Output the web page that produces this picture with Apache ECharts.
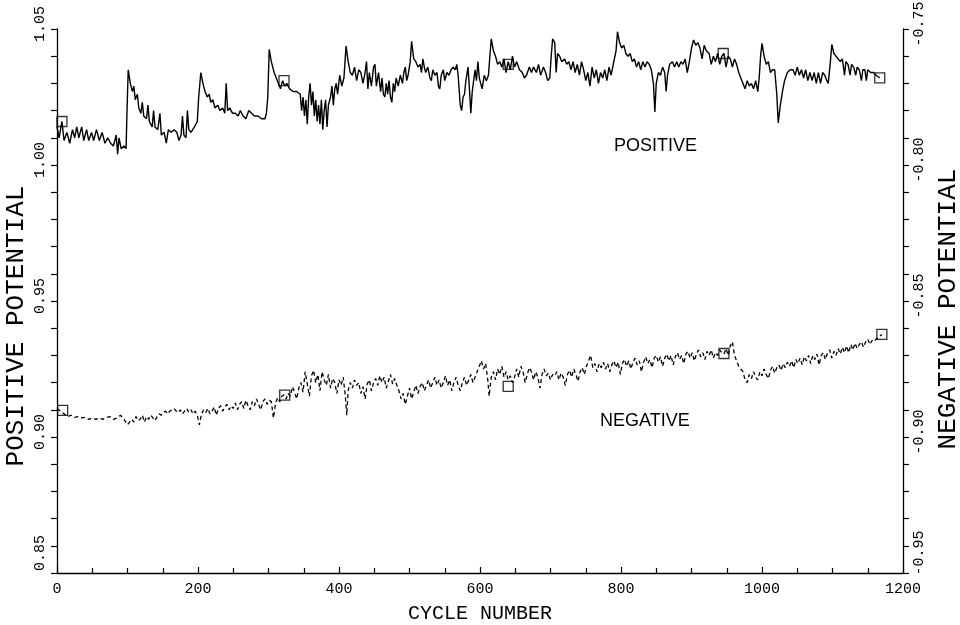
<!DOCTYPE html>
<html><head><meta charset="utf-8">
<script src="https://cdn.jsdelivr.net/npm/echarts@6/dist/echarts.min.js"></script>
<style>html,body{margin:0;padding:0;background:#fff}#c{width:960px;height:625px}</style>
</head><body><div id="c"></div>
<script>
const posCycles=[0,3,7,10,14,18,22,25,28,31,35,38,42,45,49,52,56,60,64,68,72,76,80,84,86,88,91,95,98,99,101,104,107,109,111,114,116,119,121,123,127,129,131,135,137,139,143,146,148,152,155,158,162,166,170,173,176,178,180,183,185,187,190,195,199,201,204,207,210,213,216,218,221,224,228,231,235,238,240,242,245,249,253,257,260,264,268,272,276,280,285,290,295,297,299,301,304,308,311,314,317,320,323,326,330,335,340,345,347,349,351,353,355,357,359,361,363,365,367,369,371,373,375,377,379,381,383,385,388,390,392,394,396,398,401,404,407,410,413,416,419,422,425,428,431,434,437,439,441,443,446,449,451,453,456,459,461,463,465,467,469,471,473,475,477,479,481,484,487,490,492,494,496,498,501,503,506,509,512,515,517,519,521,523,526,529,531,533,536,539,541,543,545,548,550,553,556,559,562,565,567,569,572,574,576,578,580,583,585,587,589,591,593,595,597,599,601,603,606,609,612,614,616,619,622,625,628,631,634,637,640,643,646,649,652,656,660,663,666,670,673,676,680,683,686,690,693,696,699,701,703,706,708,710,713,716,720,723,726,729,732,735,738,741,744,747,750,753,756,759,762,765,768,771,774,777,780,783,786,789,793,795,798,801,804,807,810,813,816,819,822,825,828,831,834,837,840,843,846,848,850,853,856,859,862,864,866,869,873,876,879,882,885,888,891,894,897,900,903,906,909,912,915,918,921,925,928,931,934,937,940,943,946,949,952,955,958,961,964,967,970,973,976,979,982,985,988,991,994,996,998,1000,1003,1006,1009,1012,1015,1018,1021,1023,1026,1029,1032,1036,1040,1044,1047,1050,1053,1056,1059,1062,1065,1068,1071,1074,1077,1080,1083,1086,1089,1092,1094,1097,1099,1102,1105,1108,1111,1114,1117,1119,1122,1125,1127,1130,1133,1135,1138,1141,1143,1146,1148,1150,1154,1158,1162,1167];
const posValues=[1.014,1.010,1.016,1.009,1.012,1.008,1.013,1.010,1.014,1.010,1.014,1.009,1.013,1.009,1.012,1.009,1.013,1.009,1.012,1.008,1.010,1.008,1.007,1.011,1.004,1.010,1.006,1.007,1.006,1.017,1.035,1.030,1.027,1.029,1.024,1.026,1.021,1.019,1.023,1.018,1.017,1.022,1.016,1.014,1.020,1.014,1.013,1.019,1.011,1.012,1.008,1.013,1.012,1.013,1.012,1.009,1.011,1.018,1.011,1.010,1.020,1.013,1.012,1.014,1.016,1.025,1.034,1.030,1.027,1.025,1.026,1.023,1.024,1.021,1.022,1.020,1.021,1.019,1.030,1.020,1.021,1.019,1.019,1.018,1.020,1.018,1.017,1.020,1.019,1.018,1.018,1.017,1.017,1.019,1.025,1.0425,1.038,1.034,1.032,1.030,1.028,1.031,1.029,1.030,1.028,1.027,1.027,1.026,1.020,1.025,1.018,1.024,1.015,1.025,1.030,1.022,1.027,1.018,1.024,1.016,1.022,1.015,1.024,1.013,1.020,1.024,1.014,1.022,1.025,1.029,1.022,1.028,1.030,1.026,1.033,1.029,1.032,1.0437,1.038,1.034,1.033,1.036,1.031,1.035,1.034,1.030,1.034,1.038,1.028,1.034,1.029,1.036,1.037,1.029,1.034,1.027,1.032,1.026,1.025,1.030,1.026,1.031,1.025,1.023,1.030,1.027,1.032,1.029,1.033,1.030,1.034,1.036,1.031,1.033,1.038,1.0455,1.039,1.038,1.036,1.037,1.034,1.039,1.036,1.034,1.036,1.032,1.031,1.035,1.033,1.034,1.029,1.028,1.033,1.035,1.031,1.034,1.033,1.035,1.036,1.035,1.037,1.033,1.022,1.020,1.025,1.026,1.031,1.036,1.028,1.019,1.027,1.031,1.035,1.031,1.038,1.032,1.030,1.028,1.033,1.031,1.033,1.040,1.0464,1.042,1.040,1.037,1.038,1.036,1.039,1.034,1.038,1.035,1.040,1.036,1.038,1.035,1.034,1.032,1.033,1.036,1.034,1.036,1.034,1.037,1.033,1.036,1.034,1.031,1.032,1.040,1.0464,1.045,1.034,1.041,1.040,1.038,1.039,1.037,1.038,1.035,1.038,1.034,1.037,1.033,1.038,1.035,1.031,1.034,1.029,1.036,1.032,1.035,1.030,1.034,1.032,1.035,1.031,1.036,1.033,1.037,1.042,1.049,1.045,1.043,1.044,1.041,1.040,1.041,1.038,1.039,1.036,1.038,1.035,1.038,1.036,1.038,1.037,1.035,1.030,1.0195,1.030,1.034,1.033,1.036,1.034,1.027,1.033,1.037,1.038,1.036,1.038,1.036,1.038,1.037,1.039,1.034,1.038,1.043,1.046,1.044,1.045,1.043,1.039,1.044,1.042,1.041,1.037,1.040,1.038,1.041,1.037,1.040,1.041,1.036,1.040,1.039,1.036,1.039,1.037,1.034,1.032,1.030,1.028,1.031,1.029,1.030,1.028,1.031,1.027,1.032,1.040,1.0447,1.040,1.037,1.038,1.034,1.035,1.035,1.026,1.0155,1.022,1.027,1.031,1.034,1.035,1.035,1.033,1.036,1.033,1.035,1.032,1.035,1.031,1.034,1.031,1.034,1.030,1.034,1.030,1.034,1.033,1.031,1.030,1.038,1.0443,1.041,1.040,1.039,1.038,1.039,1.033,1.038,1.037,1.033,1.037,1.036,1.033,1.036,1.035,1.031,1.035,1.035,1.031,1.035,1.034,1.034,1.033,1.032];
const negCycles=[0,5,10,15,20,25,30,35,40,45,50,55,60,65,70,75,80,85,90,95,100,103,106,109,112,115,118,121,124,127,130,133,136,139,142,145,148,151,154,157,160,163,166,169,172,175,178,181,184,187,190,193,196,199,202,205,208,211,214,217,220,223,226,229,232,235,238,241,244,247,250,253,256,259,262,265,268,271,274,277,280,283,286,289,292,295,298,301,304,307,310,313,316,319,322,325,328,331,334,337,340,343,346,349,352,355,358,361,364,367,370,373,376,379,382,385,388,391,394,397,400,403,406,409,411,413,416,419,422,425,428,431,434,437,440,443,446,449,452,455,458,461,464,467,470,473,476,479,482,485,488,491,494,497,500,503,506,509,512,515,518,521,524,527,530,533,536,539,542,545,548,551,554,557,560,563,566,569,572,575,578,581,584,587,590,593,596,599,602,605,608,611,613,616,619,622,625,628,631,634,637,640,643,646,649,652,655,658,661,664,667,670,673,676,679,682,685,688,691,694,697,700,703,706,709,712,715,718,721,724,727,730,733,736,739,742,745,748,751,754,757,760,763,766,769,772,775,778,781,784,787,790,793,796,799,802,805,808,811,814,817,820,823,826,829,832,835,838,841,844,847,850,853,856,859,862,865,868,871,874,877,880,883,886,889,892,895,898,901,904,907,910,913,916,919,922,925,928,931,934,937,940,943,946,949,952,955,958,961,964,967,970,973,976,979,982,985,988,991,994,997,1000,1003,1006,1009,1012,1015,1018,1021,1024,1027,1030,1033,1036,1039,1042,1045,1048,1051,1054,1057,1060,1063,1066,1069,1072,1075,1078,1081,1084,1087,1090,1093,1096,1099,1102,1105,1108,1111,1114,1117,1120,1123,1126,1129,1132,1135,1138,1141,1144,1147,1150,1153,1156,1159,1162,1165,1170];
const negValues=[-0.8895,-0.8905,-0.8915,-0.8925,-0.8920,-0.8928,-0.8925,-0.8930,-0.8928,-0.8935,-0.8930,-0.8935,-0.8930,-0.8935,-0.8928,-0.8925,-0.8935,-0.8930,-0.8920,-0.8935,-0.8955,-0.8945,-0.8935,-0.8945,-0.8925,-0.8940,-0.8935,-0.8920,-0.8945,-0.8925,-0.8935,-0.8920,-0.8930,-0.8940,-0.8925,-0.8915,-0.8920,-0.8910,-0.8905,-0.8915,-0.8905,-0.8900,-0.8895,-0.8905,-0.8910,-0.8900,-0.8915,-0.8905,-0.8895,-0.8910,-0.8900,-0.8915,-0.8905,-0.8920,-0.8955,-0.8915,-0.8900,-0.8910,-0.8895,-0.8915,-0.8905,-0.8890,-0.8920,-0.8895,-0.8885,-0.8905,-0.8890,-0.8880,-0.8900,-0.8885,-0.8895,-0.8875,-0.8900,-0.8880,-0.8870,-0.8895,-0.8865,-0.8885,-0.8900,-0.8870,-0.8885,-0.8860,-0.8880,-0.8900,-0.8870,-0.8860,-0.8880,-0.8865,-0.8870,-0.8930,-0.8875,-0.8855,-0.8870,-0.8850,-0.8845,-0.8860,-0.8840,-0.8850,-0.8815,-0.8835,-0.8860,-0.8820,-0.8800,-0.8835,-0.8760,-0.8805,-0.8850,-0.8775,-0.8755,-0.8800,-0.8770,-0.8830,-0.8760,-0.8790,-0.8810,-0.8770,-0.8820,-0.8785,-0.8800,-0.8840,-0.8790,-0.8810,-0.8780,-0.8850,-0.8920,-0.8830,-0.8800,-0.8820,-0.8790,-0.8810,-0.8800,-0.8840,-0.8815,-0.8860,-0.8805,-0.8790,-0.8830,-0.8800,-0.8785,-0.8810,-0.8775,-0.8800,-0.8780,-0.8820,-0.8795,-0.8770,-0.8805,-0.8785,-0.8810,-0.8830,-0.8860,-0.8840,-0.8880,-0.8850,-0.8820,-0.8860,-0.8835,-0.8810,-0.8840,-0.8815,-0.8800,-0.8830,-0.8810,-0.8790,-0.8820,-0.8800,-0.8780,-0.8810,-0.8790,-0.8820,-0.8800,-0.8775,-0.8810,-0.8790,-0.8830,-0.8800,-0.8780,-0.8810,-0.8830,-0.8800,-0.8780,-0.8810,-0.8790,-0.8770,-0.8800,-0.8780,-0.8760,-0.8740,-0.8720,-0.8750,-0.8730,-0.8790,-0.8850,-0.8780,-0.8760,-0.8790,-0.8750,-0.8770,-0.8740,-0.8780,-0.8760,-0.8790,-0.8775,-0.8800,-0.8780,-0.8750,-0.8780,-0.8740,-0.8760,-0.8800,-0.8770,-0.8745,-0.8760,-0.8790,-0.8760,-0.8780,-0.8820,-0.8770,-0.8750,-0.8775,-0.8765,-0.8790,-0.8770,-0.8775,-0.8760,-0.8790,-0.8765,-0.8780,-0.8810,-0.8770,-0.8755,-0.8780,-0.8750,-0.8770,-0.8795,-0.8760,-0.8745,-0.8770,-0.8740,-0.8720,-0.8700,-0.8745,-0.8730,-0.8760,-0.8730,-0.8745,-0.8725,-0.8750,-0.8730,-0.8760,-0.8735,-0.8720,-0.8745,-0.8725,-0.8770,-0.8730,-0.8715,-0.8740,-0.8720,-0.8750,-0.8725,-0.8710,-0.8735,-0.8720,-0.8760,-0.8725,-0.8705,-0.8730,-0.8715,-0.8745,-0.8710,-0.8700,-0.8725,-0.8705,-0.8740,-0.8710,-0.8695,-0.8720,-0.8700,-0.8735,-0.8705,-0.8690,-0.8715,-0.8700,-0.8730,-0.8695,-0.8685,-0.8710,-0.8690,-0.8720,-0.8695,-0.8680,-0.8705,-0.8690,-0.8715,-0.8685,-0.8700,-0.8680,-0.8710,-0.8690,-0.8700,-0.8680,-0.8690,-0.8695,-0.8675,-0.8700,-0.8665,-0.8650,-0.8700,-0.8720,-0.8740,-0.8750,-0.8760,-0.8790,-0.8800,-0.8770,-0.8785,-0.8760,-0.8780,-0.8790,-0.8760,-0.8775,-0.8750,-0.8770,-0.8785,-0.8755,-0.8740,-0.8765,-0.8745,-0.8735,-0.8755,-0.8730,-0.8745,-0.8725,-0.8740,-0.8720,-0.8745,-0.8715,-0.8730,-0.8710,-0.8735,-0.8705,-0.8720,-0.8700,-0.8730,-0.8700,-0.8715,-0.8695,-0.8735,-0.8700,-0.8690,-0.8715,-0.8690,-0.8680,-0.8710,-0.8685,-0.8700,-0.8675,-0.8695,-0.8670,-0.8690,-0.8665,-0.8690,-0.8660,-0.8680,-0.8655,-0.8675,-0.8660,-0.8650,-0.8670,-0.8650,-0.8640,-0.8660,-0.8645,-0.8650,-0.8640,-0.8635,-0.8623];
const posMarkCycles=[7,322,640,945,1167];
const posMarkValues=[1.016,1.031,1.037,1.041,1.032];
const negMarkCycles=[8,323,640,946,1170];
const negMarkValues=[-0.8902,-0.8846,-0.8814,-0.8693,-0.8623];
const xTicks={min:0,max:1200,step:200};
const leftTicks={min:0.85,max:1.05,step:0.05};
const rightTicks={min:-0.95,max:-0.75,step:0.05};

const monoFont='"Liberation Mono", "DejaVu Sans Mono", monospace';
const chart=echarts.init(document.getElementById('c'),null,{renderer:'canvas'});
const pair=(xs,ys)=>xs.map((x,i)=>[x,ys[i]]);
const axisBase={
  axisLine:{show:true,lineStyle:{color:'#000',width:1.3}},
  splitLine:{show:false},
};
const labRich={
  n:{color:'#000',fontFamily:monoFont,fontSize:15,padding:[0,0,0,10]},
  e:{color:'#000',fontFamily:monoFont,fontSize:15,padding:[0,0,0,40]}
};
const yFmt=(minV)=>v=>(Math.abs(v-minV)<1e-9?'{e|':'{n|')+v.toFixed(2)+'}';
chart.setOption({
  animation:false,
  backgroundColor:'#fff',
  grid:{left:57,right:57,top:29,bottom:52,containLabel:false,outerBoundsMode:'none'},
  xAxis:Object.assign({
    type:'value',min:xTicks.min,max:xTicks.max,interval:xTicks.step,
    axisTick:{show:true,inside:true,length:6,lineStyle:{color:'#000',width:1.2}},
    minorTick:{show:true,splitNumber:4,length:5,lineStyle:{color:'#000',width:1.2}},
    axisLabel:{color:'#000',fontFamily:monoFont,fontSize:15,margin:9,formatter:v=>String(v)},
    name:'CYCLE NUMBER',nameLocation:'middle',nameGap:31,
    nameTextStyle:{color:'#000',fontFamily:monoFont,fontSize:20}
  },axisBase),
  yAxis:[
    Object.assign({
      type:'value',position:'left',min:leftTicks.min,max:leftTicks.max,interval:leftTicks.step,
      axisTick:{show:true,inside:false,length:6,lineStyle:{color:'#000',width:1.2}},
      minorTick:{show:true,splitNumber:5,length:6,lineStyle:{color:'#000',width:1.2}},
      axisLabel:{color:'#000',fontFamily:monoFont,fontSize:15,rotate:90,margin:9,
        formatter:yFmt(leftTicks.min),rich:labRich},
      name:'POSITIVE POTENTIAL',nameLocation:'middle',nameGap:28,nameRotate:90,nameMoveOverlap:false,
      nameTextStyle:{color:'#000',fontFamily:monoFont,fontSize:26,padding:[0,50,0,0]}
    },axisBase),
    Object.assign({
      type:'value',position:'right',min:rightTicks.min,max:rightTicks.max,interval:rightTicks.step,
      axisTick:{show:true,inside:false,length:6,lineStyle:{color:'#000',width:1.2}},
      minorTick:{show:true,splitNumber:5,length:6,lineStyle:{color:'#000',width:1.2}},
      axisLabel:{color:'#000',fontFamily:monoFont,fontSize:15,rotate:90,margin:9,
        formatter:yFmt(rightTicks.min),rich:labRich},
      name:'NEGATIVE POTENTIAL',nameLocation:'middle',nameGap:29,nameRotate:90,
      nameTextStyle:{color:'#000',fontFamily:monoFont,fontSize:26,padding:[0,16,0,0]}
    },axisBase)
  ],
  graphic:[
    {type:'text',left:614,top:137,style:{text:'POSITIVE',fill:'#000',font:'18px "Liberation Sans", Arial, sans-serif'}},
    {type:'text',left:600,top:412,style:{text:'NEGATIVE',fill:'#000',font:'18px "Liberation Sans", Arial, sans-serif'}}
  ],
  series:[
    {type:'line',name:'positive',yAxisIndex:0,data:pair(posCycles,posValues),showSymbol:false,
      lineStyle:{color:'#000',width:1.4},z:3},
    {type:'line',name:'negative',yAxisIndex:1,data:pair(negCycles,negValues),showSymbol:false,
      lineStyle:{color:'#000',width:1.3,type:[4,3]},z:3},
    {type:'scatter',yAxisIndex:0,data:pair(posMarkCycles,posMarkValues),symbol:'rect',symbolSize:10,
      itemStyle:{color:'rgba(255,255,255,0)',borderColor:'#000',borderWidth:1.3},z:4},
    {type:'scatter',yAxisIndex:1,data:pair(negMarkCycles,negMarkValues),symbol:'rect',symbolSize:10,
      itemStyle:{color:'rgba(255,255,255,0)',borderColor:'#000',borderWidth:1.3},z:4}
  ]
});
</script></body></html>
